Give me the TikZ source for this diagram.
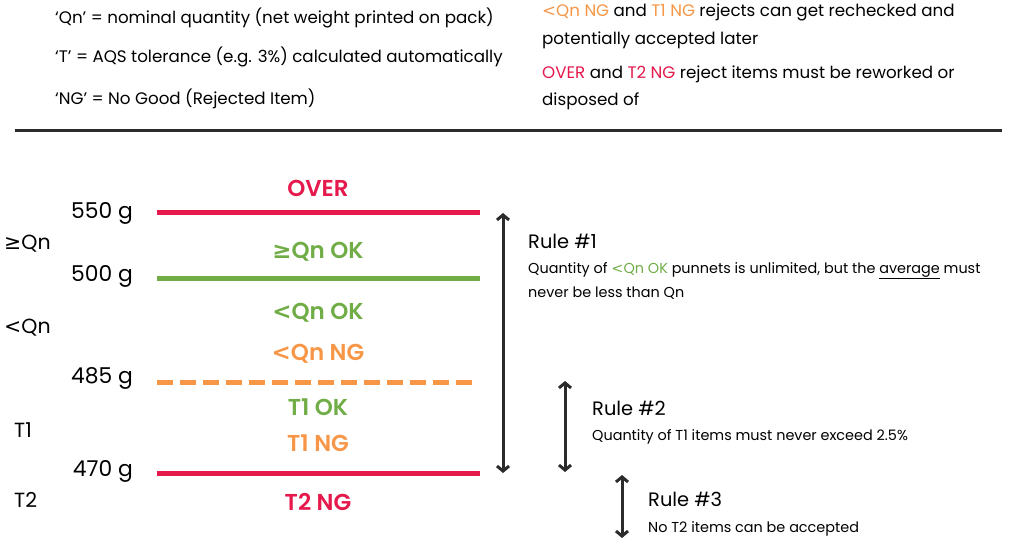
\documentclass[tikz,border=0pt]{standalone}
\usepackage{fontspec}
\setmainfont{Poppins}[BoldFont={Poppins SemiBold}]
\newfontfamily\symfont{DejaVu Sans}
\usetikzlibrary{arrows.meta}
\definecolor{cred}{HTML}{E5194B}
\definecolor{cgreen}{HTML}{70AD47}
\definecolor{corange}{HTML}{F79646}
\definecolor{cdark}{HTML}{2B2B2B}
\newcommand{\mygeq}{{\symfont ≥}}
\newcommand{\mylt}{{\symfont <}}
\begin{document}
\begin{tikzpicture}[x=1pt,y=-1pt,
  note/.style={anchor=west,inner sep=0pt,font=\fontsize{16.7}{20}\selectfont},
  wlabel/.style={anchor=east,inner sep=0pt,font=\fontsize{21.8}{24}\selectfont},
  zlabel/.style={anchor=west,inner sep=0pt,font=\fontsize{20.5}{24}\selectfont},
  cat/.style={inner sep=0pt,font=\bfseries\fontsize{23}{26}\selectfont},
  rulehead/.style={anchor=west,inner sep=0pt,font=\fontsize{19.4}{22}\selectfont},
  ruletext/.style={anchor=base west,inner sep=0pt,font=\fontsize{14.4}{17}\selectfont},
  level/.style={line width=5pt},
  rng/.style={cdark,line width=3pt,{Straight Barb[length=5pt,width=12pt]}-{Straight Barb[length=5pt,width=12pt]}}
]
\useasboundingbox (0,0) rectangle (1009,545);
% legend
\node[note] (l1) at (55,18) {‘Qn’ = nominal quantity (net weight printed on pack)};
\node[note] (l2) at (55,57) {‘T’ = AQS tolerance (e.g. 3\%) calculated automatically};
\node[note] (l3) at (55,99) {‘NG’ = No Good (Rejected Item)};
\node[note] (r1) at (542,12) {\textcolor{corange}{\mylt Qn NG} and \textcolor{corange}{T1 NG} rejects can get rechecked and};
\node[note] (r2) at (542,40) {potentially accepted later};
\node[note] (r3) at (542,74) {\textcolor{cred}{OVER} and \textcolor{cred}{T2 NG} reject items must be reworked or};
\node[note] (r4) at (542,101) {disposed of};
\coordinate (hl) at (15,131);
\coordinate (hr) at (1002,131);
\draw[cdark,line width=3pt] (hl) -- (hr);
% levels
\coordinate (a1) at (157,213); \coordinate (a2) at (480,213);
\coordinate (b1) at (157,279); \coordinate (b2) at (480,279);
\coordinate (c1) at (157,382); \coordinate (c2) at (475,382);
\coordinate (d1) at (157,473); \coordinate (d2) at (480,473);
\draw[level,cred] (a1) -- (a2);
\draw[level,cgreen] (b1) -- (b2);
\draw[level,corange,dash pattern=on 16pt off 7pt] (c1) -- (c2);
\draw[level,cred] (d1) -- (d2);
\node[wlabel] (w1) at (133,213) {550 g};
\node[wlabel] (w2) at (133,276) {500 g};
\node[wlabel] (w3) at (133,378) {485 g};
\node[wlabel] (w4) at (133,471) {470 g};
\node[zlabel] (z1) at (4,244) {\mygeq Qn};
\node[zlabel] (z2) at (4,328) {\mylt Qn};
\node[zlabel] (z3) at (14,430) {T1};
\node[zlabel] (z4) at (14,500) {T2};
\node[cat,cred] (k1) at (318,188) {OVER};
\node[cat,cgreen] (k2) at (318,252) {\mygeq Qn OK};
\node[cat,cgreen] (k3) at (318,313) {\mylt Qn OK};
\node[cat,corange] (k4) at (318,354) {\mylt Qn NG};
\node[cat,cgreen] (k5) at (318,407) {T1 OK};
\node[cat,corange] (k6) at (318,443) {T1 NG};
\node[cat,cred] (k7) at (318,502) {T2 NG};
% rules
\coordinate (p1) at (503,213); \coordinate (p2) at (503,473);
\coordinate (q1) at (565,381); \coordinate (q2) at (565,472);
\coordinate (s1) at (622,475); \coordinate (s2) at (622,538);
\draw[rng] (p1) -- (p2);
\draw[rng] (q1) -- (q2);
\draw[rng] (s1) -- (s2);
\node[rulehead] (h1) at (528,241) {Rule \#1};
\node[ruletext] (t1) at (528,273) {Quantity of \textcolor{cgreen}{\mylt Qn OK} punnets is unlimited, but the \underline{average} must};
\node[ruletext] (t1b) at (528,298) {never be less than Qn};
\node[rulehead] (h2) at (592,408) {Rule \#2};
\node[ruletext] (t2) at (592,440) {Quantity of T1 items must never exceed 2.5\%};
\node[rulehead] (h3) at (648,499) {Rule \#3};
\node[ruletext] (t3) at (648,532) {No T2 items can be accepted};
\end{tikzpicture}
\end{document}
